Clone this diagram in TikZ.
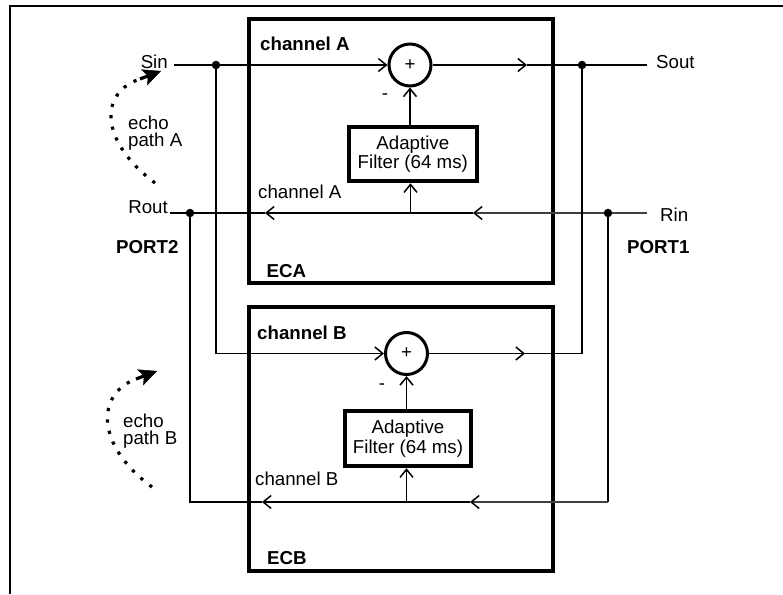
\documentclass[tikz,border=0pt]{standalone}
\usepackage{fontspec}
\setmainfont{Liberation Sans}
\usetikzlibrary{arrows.meta}
\begin{document}
\begin{tikzpicture}[x=1pt,y=-1pt,
  wire/.style={line width=1.5pt},
  faint/.style={line width=1.2pt, black!75},
  barb/.style={-{Straight Barb[length=8pt,width=13pt]}},
  fbarb/.style={-{Straight Barb[length=8pt,width=13pt,color=black,line width=1.5pt]}},
  lbl/.style={inner sep=0pt, font=\fontsize{18.7}{19.5}\selectfont},
  blbl/.style={inner sep=0pt, font=\fontsize{18.7}{19.5}\selectfont\bfseries},
  echolbl/.style={inner sep=0pt, anchor=west, align=left, font=\fontsize{18.7}{17}\selectfont},
  ecbox/.style={draw, line width=4pt, inner sep=0pt},
  filt/.style={draw, line width=3.8pt, inner sep=0pt, align=center, font=\fontsize{18.7}{19.5}\selectfont},
  summ/.style={draw, circle, line width=3pt, minimum size=42pt, inner sep=0pt, font=\fontsize{18.7}{19.5}\selectfont},
  dot/.style={circle, fill=black, inner sep=0pt, minimum size=8.5pt},
  echo/.style={line width=3.2pt, dash pattern=on 3.2pt off 8.3pt},
  echotip/.style={line width=3.2pt, -{Stealth[length=18pt,width=17pt,inset=4pt,line width=0.5pt]}}
]
\fill[white] (0,0) rectangle (783,594);
\useasboundingbox (0,0) rectangle (783,594);

% outer frame
\draw[line width=2pt] (9.5,594) -- (9.5,6.5) -- (783,6.5);

% canceller boxes
\node[ecbox, minimum width=304.3pt, minimum height=263.7pt] (eca) at (400.85,151.15) {};
\node[ecbox, minimum width=304.3pt, minimum height=264.3pt] (ecb) at (400.85,439.15) {};

% summing junctions and filters
\node[summ] (sumA) at (410,65) {+};
\node[summ] (sumB) at (406.5,353.5) {+};
\node[filt, minimum width=128.3pt, minimum height=54.3pt] (filtA) at (412.8,154.2) {Adaptive\\Filter (64 ms)};
\node[filt, minimum width=126.6pt, minimum height=55pt] (filtB) at (408,438.8) {Adaptive\\Filter (64 ms)};

% junction dots
\node[dot] (dSin) at (216,65) {};
\node[dot] (dSout) at (582,65) {};
\node[dot] (dRout) at (190,213) {};
\node[dot] (dRin) at (608,213) {};

% coordinates
\coordinate (sinL) at (174,65);
\coordinate (soutR) at (647,65);
\coordinate (routL) at (170,213);
\coordinate (rinR) at (647,213);
\coordinate (oA) at (527,65);
\coordinate (rA1) at (473,213);
\coordinate (tapA) at (410.5,213);
\coordinate (rA2) at (265,213);
\coordinate (sinB) at (216,353.5);
\coordinate (soutB) at (582,353.5);
\coordinate (oB) at (525,353.5);
\coordinate (rinB) at (608,502);
\coordinate (routB) at (190,502);
\coordinate (rB1) at (470,502);
\coordinate (tapB) at (406.5,502);
\coordinate (rB2) at (262,502);
\coordinate (eA1) at (155,183);
\coordinate (eA2) at (140,79);
\coordinate (eA3) at (161,71);
\coordinate (eB1) at (152,487);
\coordinate (eB2) at (136,379);
\coordinate (eB3) at (157,371);

% channel A
\draw[wire] (sinL) -- (dSin);
\draw[wire, barb] (dSin) -- (sumA.west);
\draw[wire, barb] (sumA.east) -- (oA);
\draw[wire] (oA) -- (dSout) -- (soutR);
\draw[faint] (rinR) -- (dRin);
\draw[faint, fbarb] (dRin) -- (rA1);
\draw[wire, barb] (rA1) -- (rA2);
\draw[wire] (rA2) -- (dRout) -- (routL);
\draw[wire, barb] (tapA) -- (tapA |- filtA.south);
\draw[wire, barb] (sumA.south |- filtA.north) -- (sumA.south);

% channel B
\draw[wire, barb] (dSin) -- (sinB) -- (sumB.west);
\draw[wire, barb] (sumB.east) -- (oB);
\draw[wire] (oB) -- (soutB) -- (dSout);
\draw[wire] (dRin) -- (rinB);
\draw[faint, fbarb] (rinB) -- (rB1);
\draw[wire, barb] (rB1) -- (rB2);
\draw[wire] (rB2) -- (routB) -- (dRout);
\draw[wire, barb] (tapB) -- (tapB |- filtB.south);
\draw[wire, barb] (sumB.south |- filtB.north) -- (sumB.south);

% echo paths
\draw[echo] (eA1) .. controls (98,140) and (100,92) .. (eA2);
\draw[echotip] (eA2) -- (eA3);
\draw[echo] (eB1) .. controls (95,445) and (96,394) .. (eB2);
\draw[echotip] (eB2) -- (eB3);
\node[echolbl] (echoA) at (128,133) {echo\\path A};
\node[echolbl] (echoB) at (123,431) {echo\\path B};

% labels
\node[lbl, anchor=base east] (sin) at (168,68) {Sin};
\node[lbl, anchor=base east] (rout) at (168,213.5) {Rout};
\node[lbl, anchor=base west] (sout) at (656,68) {Sout};
\node[lbl, anchor=base west] (rin) at (660,221.5) {Rin};
\node[blbl, anchor=base west] (port2) at (116,253) {PORT2};
\node[blbl, anchor=base west] (port1) at (627,253) {PORT1};
\node[blbl, anchor=base west] (chAtop) at (260,50) {channel A};
\node[lbl, anchor=base west] (chAbot) at (258,198) {channel A};
\node[blbl, anchor=base west] (ecaL) at (266.5,277) {ECA};
\node[blbl, anchor=base west] (chBtop) at (257,339) {channel B};
\node[lbl, anchor=base west] (chBbot) at (255,485) {channel B};
\node[blbl, anchor=base west] (ecbL) at (267,564) {ECB};
\node[lbl] (mA) at (385,97) {-};
\node[lbl] (mB) at (382,387) {-};
\end{tikzpicture}
\end{document}
